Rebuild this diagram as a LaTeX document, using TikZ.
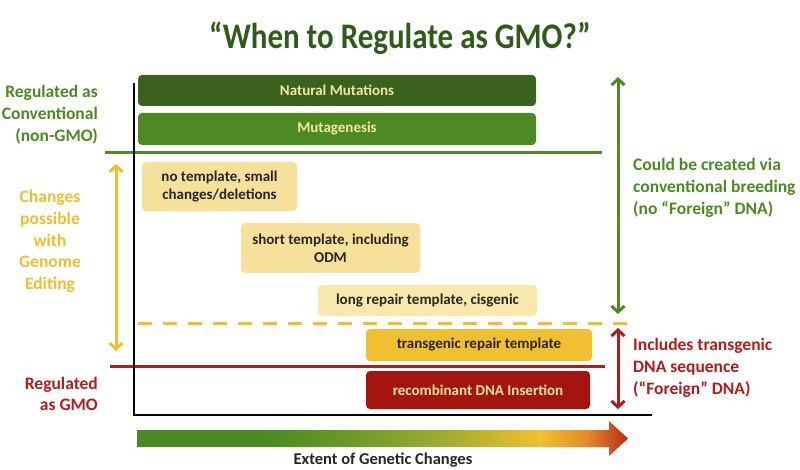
\documentclass[tikz,border=0pt]{standalone}
\usepackage{fontspec}
\setmainfont{Carlito}
\newfontfamily\titlefont[FakeStretch=0.86]{Carlito}
\usetikzlibrary{arrows.meta}
\definecolor{titlegreen}{HTML}{2E5C18}
\definecolor{darkgreen}{HTML}{3A611D}
\definecolor{midgreen}{HTML}{4E8A22}
\definecolor{labgreen}{HTML}{4A8A1E}
\definecolor{paleyellow}{HTML}{F6E09A}
\definecolor{lightyellow}{HTML}{F8E8AC}
\definecolor{gold}{HTML}{F0BF30}
\definecolor{labgold}{HTML}{EEBE2E}
\definecolor{darkred}{HTML}{A5150F}
\definecolor{labred}{HTML}{B01C1C}
\definecolor{boxtext}{HTML}{F5E6A2}
\definecolor{gA}{HTML}{4A8A22}
\definecolor{gB}{HTML}{6C9A28}
\definecolor{gC}{HTML}{A6AC30}
\definecolor{gD}{HTML}{F0C030}
\definecolor{gE}{HTML}{E08A28}
\definecolor{gF}{HTML}{B82818}
\pgfdeclarehorizontalshading{extentshade}{100bp}{color(0bp)=(gA); color(25bp)=(gA); color(38bp)=(gA); color(47bp)=(gB); color(57bp)=(gC); color(66bp)=(gD); color(71bp)=(gE); color(75bp)=(gF); color(100bp)=(gF)}
\begin{document}
\begin{tikzpicture}[x=1pt,y=-1pt,
  box/.style={rounded corners=4pt, inner sep=0pt, align=center,
    font=\bfseries\fontsize{15}{18}\selectfont},
  sidelab/.style={inner sep=0pt, font=\bfseries\fontsize{17.5}{21.7}\selectfont},
  garrow/.style={line width=3pt, draw=midgreen,
    {Straight Barb[length=6pt,width=13pt]}-{Straight Barb[length=6pt,width=13pt]}},
  yarrow/.style={line width=3pt, draw=gold,
    {Straight Barb[length=6pt,width=13pt]}-{Straight Barb[length=6pt,width=13pt]}},
  rarrow/.style={line width=3pt, draw=labred,
    {Straight Barb[length=6pt,width=13pt]}-{Straight Barb[length=6pt,width=13pt]}}
]
\useasboundingbox (0,0) rectangle (800,470);

% title
\node[text=titlegreen, font=\titlefont\bfseries\fontsize{36}{40}\selectfont] (title) at (400,38) {“When to Regulate as GMO?”};

% boxes
\node[box, fill=darkgreen, text=boxtext, minimum width=398pt, minimum height=31pt] (nat) at (337,90.5) {Natural Mutations};
\node[box, fill=midgreen, text=boxtext, minimum width=398pt, minimum height=32pt] (mut) at (337,129) {Mutagenesis};
\node[box, fill=paleyellow, text=black!85, minimum width=155pt, minimum height=49pt] (notemp) at (219.5,186.5) {no template, small\\changes/deletions};
\node[box, fill=paleyellow, text=black!85, minimum width=179pt, minimum height=50pt] (short) at (330.5,248) {short template, including\\ODM};
\node[box, fill=lightyellow, text=black!85, minimum width=219pt, minimum height=31pt] (long) at (427.5,300.5) {long repair template, cisgenic};
\node[box, fill=gold, text=black!85, minimum width=226pt, minimum height=32pt] (trans) at (479,345) {transgenic repair template};
\node[box, fill=darkred, text=boxtext, minimum width=224pt, minimum height=38pt] (recomb) at (478,390) {recombinant DNA Insertion};

% horizontal category lines
\coordinate (gl1) at (105,153); \coordinate (gl2) at (602,153);
\draw[line width=3pt, draw=midgreen] (gl1) -- (gl2);
\coordinate (yl1) at (138,323); \coordinate (yl2) at (638,323);
\draw[line width=3pt, draw=gold, dash pattern=on 14pt off 11pt] (yl1) -- (yl2);
\coordinate (rl1) at (110,366.5); \coordinate (rl2) at (605,366.5);
\draw[line width=2.5pt, draw=labred] (rl1) -- (rl2);

% axes
\coordinate (ytop) at (134,83); \coordinate (origin) at (134,415); \coordinate (xend) at (652,415);
\draw[line width=2.6pt, black] (ytop) -- (origin) -- (xend);

% vertical double arrows
\coordinate (ga1) at (618,77); \coordinate (ga2) at (618,314);
\draw[garrow] (ga1) -- (ga2);
\coordinate (ya1) at (116,164); \coordinate (ya2) at (116,351);
\draw[yarrow] (ya1) -- (ya2);
\coordinate (ra1) at (618,328); \coordinate (ra2) at (618,409);
\draw[rarrow] (ra1) -- (ra2);

% side labels
\node[sidelab, anchor=east, align=right, text=labgreen] (conv) at (98,114.5) {Regulated as\\Conventional\\(non-GMO)};
\node[sidelab, align=center, text=labgold] (gedit) at (50,241.5) {Changes\\possible\\with\\Genome\\Editing};
\node[sidelab, anchor=east, align=right, text=labred] (gmo) at (98,394) {Regulated\\as GMO};
\node[sidelab, anchor=west, align=left, text=labgreen] (breed) at (633,188) {Could be created via\\conventional breeding\\(no “Foreign” DNA)};
\node[sidelab, anchor=west, align=left, text=labred] (foreign) at (633,368) {Includes transgenic\\DNA sequence\\(“Foreign” DNA)};

% extent arrow
\shade[shading=extentshade] (137,430) -- (609,430) -- (609,421) -- (628,438.5) -- (609,456) -- (609,447) -- (137,447) -- cycle;
\node[font=\bfseries\fontsize{16.5}{20}\selectfont, text=black!85] (extent) at (383,460) {Extent of Genetic Changes};
\end{tikzpicture}
\end{document}
